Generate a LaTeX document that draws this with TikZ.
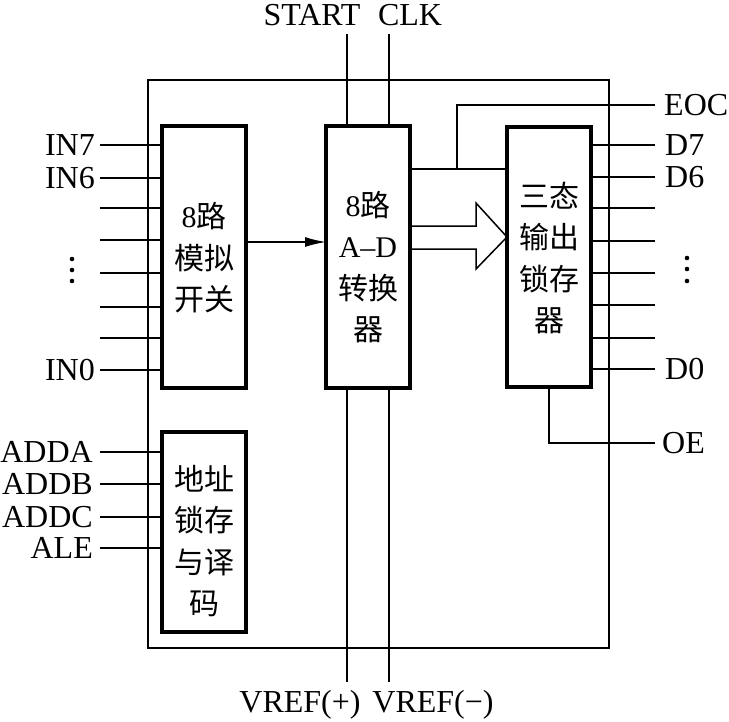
\documentclass[tikz,border=0pt]{standalone}
\usepackage{fontspec}
\setmainfont{Liberation Serif}
\newfontfamily\cjk{Noto Sans CJK SC}
\usetikzlibrary{arrows.meta,positioning}

\tikzset{
  blk/.style={draw, line width=3.6pt, inner sep=0pt, outer sep=0pt, minimum width=84pt},
  blktext/.style={align=center, inner sep=0pt, font=\fontsize{30}{41.5}\selectfont},
  pin/.style={line width=1.5pt},
  bus/.style={line width=2.2pt},
  pinlabel/.style={inner sep=0pt, font=\fontsize{32}{36}\selectfont},
}
\newcommand\zh[1]{{\cjk #1}}

\begin{document}
\begin{tikzpicture}[x=1pt, y=-1pt, >={Latex[length=21pt,width=10pt]}]
\useasboundingbox (0,0) rectangle (729,721);

% chip outline
\draw[line width=1.3pt] (148,80) rectangle (609,648);

% blocks
\node[blk, minimum height=262pt] (mux) at (204,257) {};
\node[blk, minimum height=262pt] (adc) at (368,257) {};
\node[blk, minimum height=260pt] (latch) at (549,257) {};
\node[blk, minimum height=200pt] (addr) at (204,532) {};

\node[blktext] (muxtext) at (204,258) {8\zh{路}\\\zh{模拟}\\\zh{开关}};
\node[blktext] (adctext) at (368,267) {8\zh{路}\\A--D\\\zh{转换}\\\zh{器}};
\node[blktext] (latchtext) at (549,258) {\zh{三态}\\\zh{输出}\\\zh{锁存}\\\zh{器}};
\node[blktext] (addrtext) at (204,541) {\zh{地址}\\\zh{锁存}\\\zh{与译}\\\zh{码}};

% analog inputs
\foreach \y [count=\i from 0] in {370,338,307,273,240,208,178,145}
{
	\coordinate (in\i) at (100,\y);
	\draw[pin] (in\i) -- (in\i -| mux.west);
}
\node[pinlabel, left=5pt of in7] (in7l) {IN7};
\node[pinlabel, left=5pt of in6] (in6l) {IN6};
\node[pinlabel, left=5pt of in0] (in0l) {IN0};
\foreach \y in {259,270,281}
	\fill (72,\y) circle (2.3pt);

% address inputs
\foreach \y/\n in {452/ADDA,484/ADDB,517/ADDC,548/ALE}
{
	\coordinate (\n) at (100,\y);
	\draw[pin] (\n) -- (\n -| addr.west);
	\node[pinlabel, left=7pt of \n] (\n-l) {\n};
}

% START, CLK, VREF
\coordinate (start) at (347,34);
\coordinate (clk) at (389,34);
\draw[pin] (start) -- (start |- adc.north);
\draw[bus] (clk) -- (clk |- adc.north);
\node[pinlabel, anchor=base] (startl) at (312,25) {START};
\node[pinlabel, anchor=base] (clkl) at (410,25) {CLK};

\coordinate (vrefp) at (347,682);
\coordinate (vrefm) at (389,682);
\draw[pin] (adc.south -| vrefp) -- (vrefp);
\draw[bus] (adc.south -| vrefm) -- (vrefm);
\node[pinlabel, anchor=base] (vrefpl) at (300,712) {VREF(+)};
\node[pinlabel, anchor=base] (vrefml) at (433,712) {VREF(−)};

% internal paths
\draw[pin,->] (mux.east |- 0,242) -- (adc.west |- 0,242);

\coordinate (tap) at (457,169);
\coordinate (eoc) at (655,105);
\draw[pin] (adc.east |- tap) -- (latch.west |- tap);
\draw[pin] (tap) |- (eoc);
\node[pinlabel, right=9pt of eoc] (eocl) {EOC};

\draw[pin, line join=miter] (adc.east |- 0,226) -- (476,226) -- (476,203)
	-- (latch.west |- 0,237) -- (476,269) -- (476,249) -- (adc.east |- 0,249);

% data outputs
\foreach \y [count=\i from 0] in {369,338,305,273,241,208,177,145}
{
	\coordinate (d\i) at (655,\y);
	\draw[pin] (d\i -| latch.east) -- (d\i);
}
\node[pinlabel, right=10pt of d7] (d7l) {D7};
\node[pinlabel, right=10pt of d6] (d6l) {D6};
\node[pinlabel, right=10pt of d0] (d0l) {D0};
\foreach \y in {258,269,281}
	\fill (687,\y) circle (2.3pt);

\coordinate (oe) at (655,443);
\draw[pin] (latch.south) |- (oe);
\node[pinlabel, right=7pt of oe] (oel) {OE};

\end{tikzpicture}
\end{document}
